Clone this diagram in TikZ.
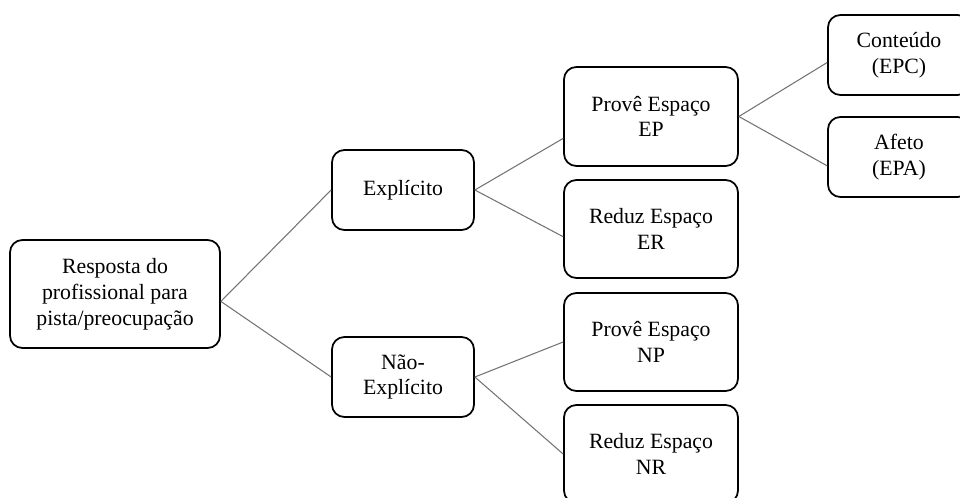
\documentclass[tikz,border=0pt]{standalone}
\usepackage{fontspec}
\setmainfont{Liberation Serif}

\begin{document}
\begin{tikzpicture}[x=0.02cm, y=-0.02cm,
    caixa/.style={draw, line width=1pt, rounded corners=7pt, align=center,
      inner sep=0pt, font=\fontsize{12.4}{14.7}\selectfont},
    liga/.style={draw=black!55, line width=0.6pt}]
  \clip (0,0) rectangle (960,497);
  % raiz
  \node[caixa, minimum width=4.2cm, minimum height=2.16cm] (resposta) at (115,294)
    {Resposta do\\profissional para\\pista/preocupação};
  % primeiro nivel
  \node[caixa, minimum width=2.84cm, minimum height=1.6cm] (explicito) at (403,190) {Explícito};
  \node[caixa, minimum width=2.84cm, minimum height=1.6cm] (naoexplicito) at (403,377) {Não-\\Explícito};
  % segundo nivel
  \node[caixa, minimum width=3.48cm, minimum height=1.98cm] (ep) at (651,116.5) {Provê Espaço\\EP};
  \node[caixa, minimum width=3.48cm, minimum height=1.96cm] (er) at (651,229) {Reduz Espaço\\ER};
  \node[caixa, minimum width=3.48cm, minimum height=1.96cm] (np) at (651,342) {Provê Espaço\\NP};
  \node[caixa, minimum width=3.48cm, minimum height=1.96cm] (nr) at (651,454) {Reduz Espaço\\NR};
  % terceiro nivel (cortado na margem direita)
  \node[caixa, minimum width=2.84cm, minimum height=1.6cm] (epc) at (899,55) {Conteúdo\\(EPC)};
  \node[caixa, minimum width=2.84cm, minimum height=1.6cm] (epa) at (899,157) {Afeto\\(EPA)};
  % ligacoes
  \draw[liga] (resposta.-4) -- (explicito.west);
  \draw[liga] (resposta.-4) -- (naoexplicito.west);
  \draw[liga] (explicito.east) -- (ep.194);
  \draw[liga] (explicito.east) -- (er.185);
  \draw[liga] (naoexplicito.east) -- (np.west);
  \draw[liga] (naoexplicito.east) -- (nr.west);
  \draw[liga] (ep.east) -- (epc.186);
  \draw[liga] (ep.east) -- (epa.187);
\end{tikzpicture}
\end{document}
